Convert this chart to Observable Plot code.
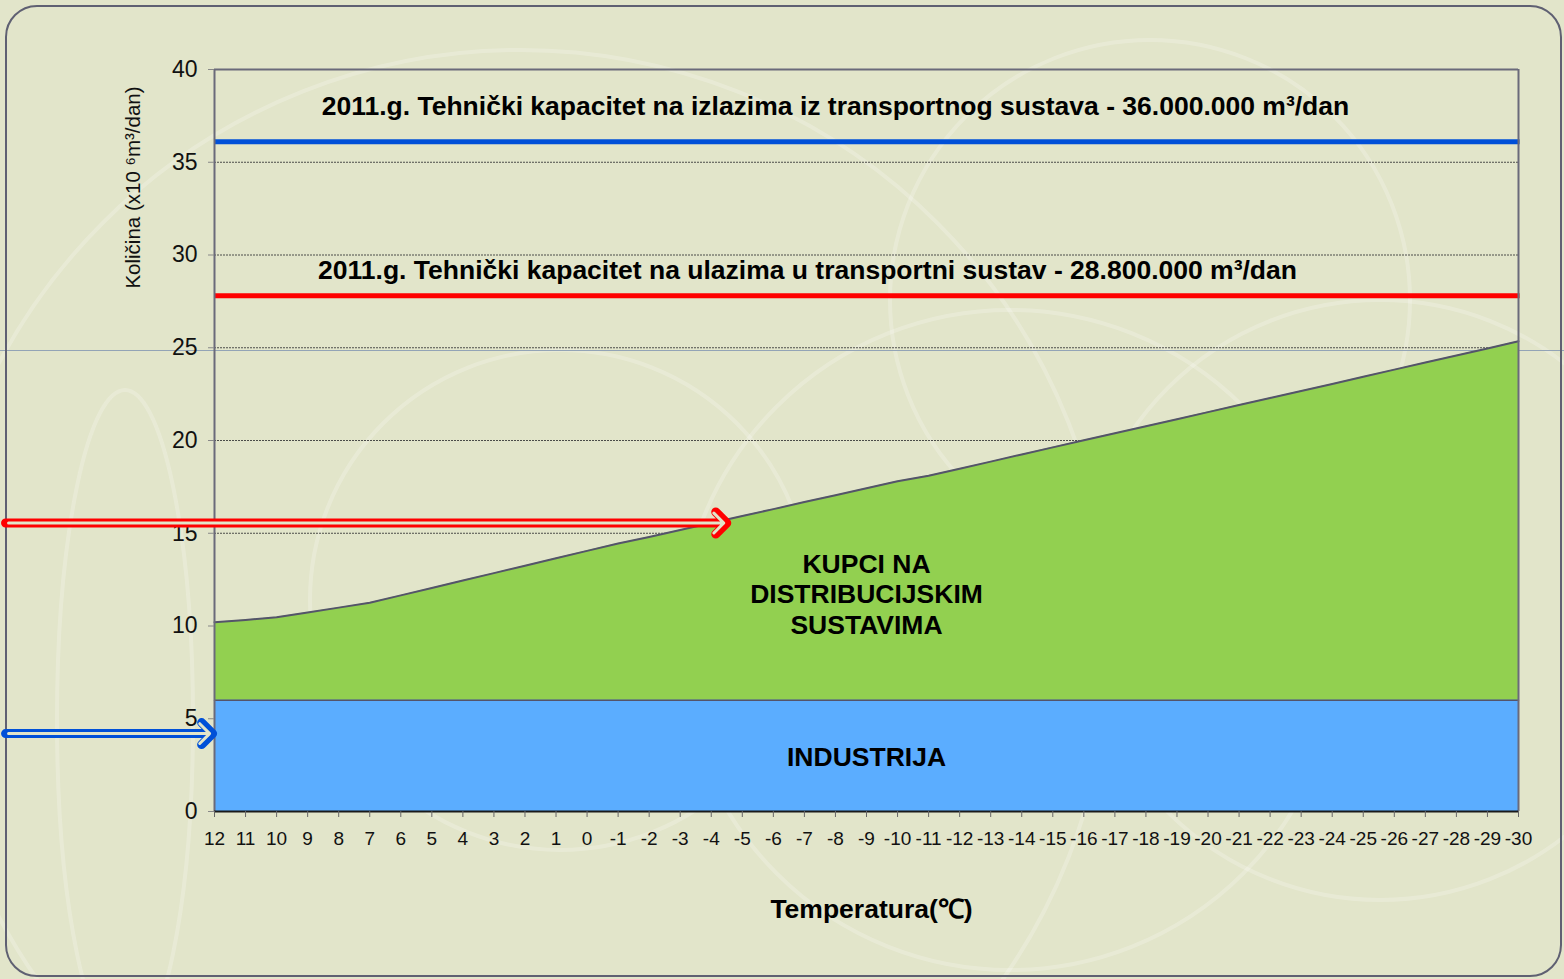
<!DOCTYPE html>
<html>
<head>
<meta charset="utf-8">
<script src="https://cdn.jsdelivr.net/npm/d3@7"></script>
<script src="https://cdn.jsdelivr.net/npm/@observablehq/plot@0.6"></script>
<style>
  html, body { margin: 0; padding: 0; background: #e2e5ca; }
  #wrap { position: relative; width: 1564px; height: 979px; overflow: hidden; background: #e2e5ca; font-family: "Liberation Sans", sans-serif; }
  #deco { position: absolute; left: 0; top: 0; }
  #stray { position: absolute; left: 0; top: 350px; width: 1564px; height: 1px; background: #93a4b6; }
  #frame { position: absolute; left: 5px; top: 5px; width: 1553px; height: 968px; border: 2px solid #5f6072; border-radius: 32px; }
  #chart { position: absolute; left: 0; top: 0; }
</style>
</head>
<body>
<div id="wrap">
  <svg id="deco" width="1564" height="979">
    <g fill="none" stroke="rgba(255,255,255,0.22)" stroke-width="4">
      <circle cx="560" cy="600" r="250"/>
      <ellipse cx="125" cy="720" rx="68" ry="330"/>
      <circle cx="520" cy="640" r="590"/>
      <circle cx="1010" cy="640" r="330"/>
      <circle cx="1380" cy="600" r="300"/>
      <circle cx="1150" cy="300" r="260"/>
    </g>
  </svg>
  <div id="stray"></div>
  <div id="frame"></div>
  <div id="chart"></div>
</div>
<script>
// ---- Data ----
const temperature = [12,11,10,9,8,7,6,5,4,3,2,1,0,-1,-2,-3,-4,-5,-6,-7,-8,-9,-10,-11,-12,-13,-14,-15,-16,-17,-18,-19,-20,-21,-22,-23,-24,-25,-26,-27,-28,-29,-30];
// top of green area (industry + distribution customers), x10^6 m3/dan
const ukupno = [10.2,10.33,10.47,10.73,10.99,11.25,11.65,12.05,12.45,12.85,13.25,13.65,14.05,14.45,14.8,15.18,15.55,15.93,16.3,16.68,17.05,17.43,17.8,18.1,18.48,18.86,19.25,19.63,20.01,20.39,20.77,21.15,21.53,21.91,22.29,22.67,23.05,23.44,23.82,24.2,24.58,24.96,25.35];
// industry
const industrija = [6,6,6,6,6,6,6,6,6,6,6,6,6,6,6,6,6,6,6,6,6,6,6,6,6,6,6,6,6,6,6,6,6,6,6,6,6,6,6,6,6,6,6];
const yTicks = [0,5,10,15,20,25,30,35,40];
const xTickLabels = ["12","11","10","9","8","7","6","5","4","3","2","1","0","-1","-2","-3","-4","-5","-6","-7","-8","-9","-10","-11","-12","-13","-14","-15","-16","-17","-18","-19","-20","-21","-22","-23","-24","-25","-26","-27","-28","-29","-30"];
const gridValues = [5,10,15,20,25,30,35];
const capacityValues = [36.1, 27.8];
const capacityColors = ["#0050d8", "#ff0000"];
const capacityLabels = [
  "2011.g. Tehnički kapacitet na izlazima iz transportnog sustava - 36.000.000 m³/dan",
  "2011.g. Tehnički kapacitet na ulazima u transportni sustav - 28.800.000 m³/dan"
];
const capacityLabelX = [-8.0, -7.1];
const capacityLabelY = [38.0, 29.15];
const areaLabels = ["KUPCI NA\nDISTRIBUCIJSKIM\nSUSTAVIMA", "INDUSTRIJA"];
const areaLabelX = [-9, -9];
const areaLabelY = [11.75, 3.0];
// annotation arrows (from outside left margin toward the chart)
const arrowY = [15.55, 4.2];
const arrowX1 = [18.73, 18.73];
const arrowX2 = [-4.5, 12.06];
const arrowColors = ["#ff0000", "#0050d8"];
const xLabel = "Temperatura(℃)";
const yLabel = "Količina (x10 ⁶m³/dan)";

const BG = "#e2e5ca";
const FONT = "'Liberation Sans', sans-serif";
const rows = temperature.map((t, i) => ({t, total: ukupno[i], ind: industrija[i]}));
const caps = capacityValues.map((v, i) => ({v, c: capacityColors[i]}));
const capText = capacityLabels.map((s, i) => ({s, x: capacityLabelX[i], y: capacityLabelY[i]}));
const areaText = areaLabels.map((s, i) => ({s, x: areaLabelX[i], y: areaLabelY[i]}));
const arrows = arrowY.map((y, i) => ({x1: arrowX1[i], x2: arrowX2[i], y, c: arrowColors[i]}));
const xTicks = temperature.map((t, i) => ({t, s: xTickLabels[i]}));

const chart = Plot.plot({
  width: 1564,
  height: 979,
  marginLeft: 214,
  marginRight: 46,
  marginTop: 69,
  marginBottom: 168,
  style: {background: "transparent", fontFamily: FONT, overflow: "visible"},
  x: {type: "linear", domain: [12, -30]},
  y: {domain: [0, 40]},
  marks: [
    Plot.ruleY(gridValues, {stroke: "#3a3a3a", strokeWidth: 0.9, strokeDasharray: "2,1"}),
    Plot.areaY(rows, {x: "t", y: "total", fill: "#92d050"}),
    Plot.areaY(rows, {x: "t", y: "ind", fill: "#5badff"}),
    Plot.lineY(rows, {x: "t", y: "total", stroke: "#54546a", strokeWidth: 2}),
    Plot.lineY(rows, {x: "t", y: "ind", stroke: "#54546a", strokeWidth: 1.5}),
    Plot.ruleY(caps, {y: "v", stroke: d => d.c, strokeWidth: 5, x1: 12, x2: -30.05}),
    // plot frame
    Plot.ruleX([12, -30], {stroke: "#6a6a7a", strokeWidth: 2}),
    Plot.ruleY([40], {stroke: "#6a6a7a", strokeWidth: 2}),
    Plot.ruleY([0], {stroke: "#1a1a1a", strokeWidth: 2}),
    // axis tick marks (labels drawn separately)
    Plot.axisY({ticks: yTicks, tickSize: 6, tickFormat: () => "", stroke: "#888", label: null}),
    Plot.axisX({ticks: temperature, tickSize: 6, tickFormat: () => "", stroke: "#666", label: null}),
    Plot.text(yTicks, {x: 12, y: d => d, dx: -17, textAnchor: "end", lineAnchor: "middle", fontSize: 23, fontFamily: FONT, fill: "#111"}),
    Plot.text(xTicks, {x: "t", text: "s", frameAnchor: "bottom", dy: 27, lineAnchor: "middle", fontSize: 19, fontFamily: FONT, fill: "#111", ariaLabel: "xticklabels"}),
    Plot.text(capText, {x: "x", y: "y", text: "s", fontSize: 26.5, fontWeight: "bold", fontFamily: FONT, fill: "#000"}),
    Plot.text(areaText, {x: "x", y: "y", text: "s", fontSize: 26.5, fontWeight: "bold", fontFamily: FONT, fill: "#000", lineHeight: 1.15}),
    Plot.text([xLabel], {frameAnchor: "bottom", textAnchor: "middle", lineAnchor: "middle", dx: 5, dy: 98, fontSize: 26.5, fontWeight: "bold", fontFamily: FONT, fill: "#000"}),
    Plot.text([yLabel], {frameAnchor: "top-left", textAnchor: "middle", lineAnchor: "middle", rotate: -90, dx: -81, dy: 118, fontSize: 20.5, fontFamily: FONT, fill: "#111"}),
    // hollow arrows
    Plot.arrow(arrows, {x1: "x1", x2: "x2", y1: "y", y2: "y", stroke: d => d.c, strokeWidth: 9, headLength: 2.6, headAngle: 90, clip: false}),
    Plot.arrow(arrows, {x1: "x1", x2: "x2", y1: "y", y2: "y", stroke: BG, strokeWidth: 3, headLength: 7, headAngle: 90, insetStart: 3, insetEnd: 3, clip: false})
  ]
});
d3.select(chart).selectAll('g[aria-label="xticklabels"] text').style("letter-spacing", "-1px");
document.getElementById("chart").appendChild(chart);
</script>
</body>
</html>
